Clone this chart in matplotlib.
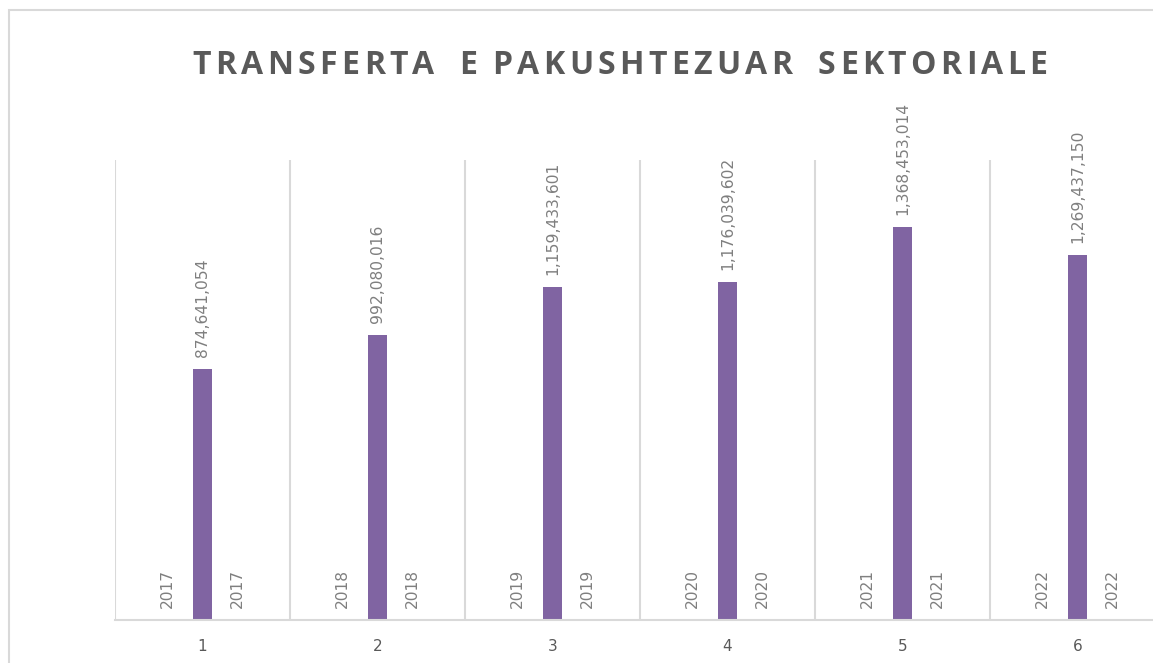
import matplotlib.pyplot as plt
import numpy as np
from matplotlib.patches import Rectangle

categories = ["1", "2", "3", "4", "5", "6"]
years = [2017, 2018, 2019, 2020, 2021, 2022]
transfers = [874641054, 992080016, 1159433601, 1176039602, 1368453014, 1269437150]
title = "TRANSFERTA  E PAKUSHTEZUAR  SEKTORIALE"

purple = "#8064A2"
label_gray = "#7F7F7F"

fig = plt.figure(figsize=(11.53, 6.63), dpi=100)
ax = fig.add_axes([115 / 1153, 43 / 663, 1050 / 1153, 460 / 663])

x = np.arange(len(categories)) + 1
offset = 0.2
width = 0.114

# three series per category: year, transfer amount, year again
b_left = ax.bar(x - offset, years, width, color=purple)
b_mid = ax.bar(x, transfers, width, color=purple)
b_right = ax.bar(x + offset, years, width, color=purple)

for bars, vals, fmt in [(b_left, years, "{}"), (b_mid, transfers, "{:,}"), (b_right, years, "{}")]:
    for bar, v in zip(bars, vals):
        ax.annotate(fmt.format(v), (bar.get_x() + bar.get_width() / 2, bar.get_height()),
                    xytext=(0, 12), textcoords="offset pixels",
                    rotation=90, ha="center", va="bottom", fontsize=11.2,
                    color=label_gray, family="DejaVu Sans")

ax.set_xlim(0.5, 6.5)
ax.set_ylim(0, 1.6e9)
ax.set_xticks(x)
ax.set_xticklabels(categories, fontsize=11, color="#595959")
ax.set_yticks([])
ax.tick_params(axis="x", length=0, pad=14)

# vertical separators between categories
for edge in np.arange(0.5, 7.0, 1.0):
    ax.axvline(edge, color="#D9D9D9", linewidth=1.5, zorder=0)

for side in ["top", "right", "left"]:
    ax.spines[side].set_visible(False)
ax.spines["bottom"].set_color("#D9D9D9")
ax.spines["bottom"].set_linewidth(1.5)

# title with letter spacing: place characters one by one
renderer = fig.canvas.get_renderer()
chars = []
widths = []
for ch in title:
    t = fig.text(0, 0, ch if ch != " " else "n", fontsize=23, fontweight="bold",
                 color="#595959", family=["Liberation Sans Narrow", "Open Sans"],
                 va="center", ha="left")
    w = t.get_window_extent(renderer).width
    if ch == " ":
        w *= 0.3
        t.set_visible(False)
    chars.append(t)
    widths.append(w)
target = 855
tracking = (target - sum(widths)) / (len(title) - 1)
xpos = 620 - target / 2
for t, w in zip(chars, widths):
    t.set_position((xpos / 1153, 1 - 66 / 663))
    xpos += w + tracking

# outer frame
fig.patches.append(Rectangle((9 / 1153, -0.05), 1.1, 1 - 10 / 663 + 0.05,
                             transform=fig.transFigure, fill=False,
                             edgecolor="#D9D9D9", linewidth=1.5))

fig.savefig("out.png", dpi=100)
